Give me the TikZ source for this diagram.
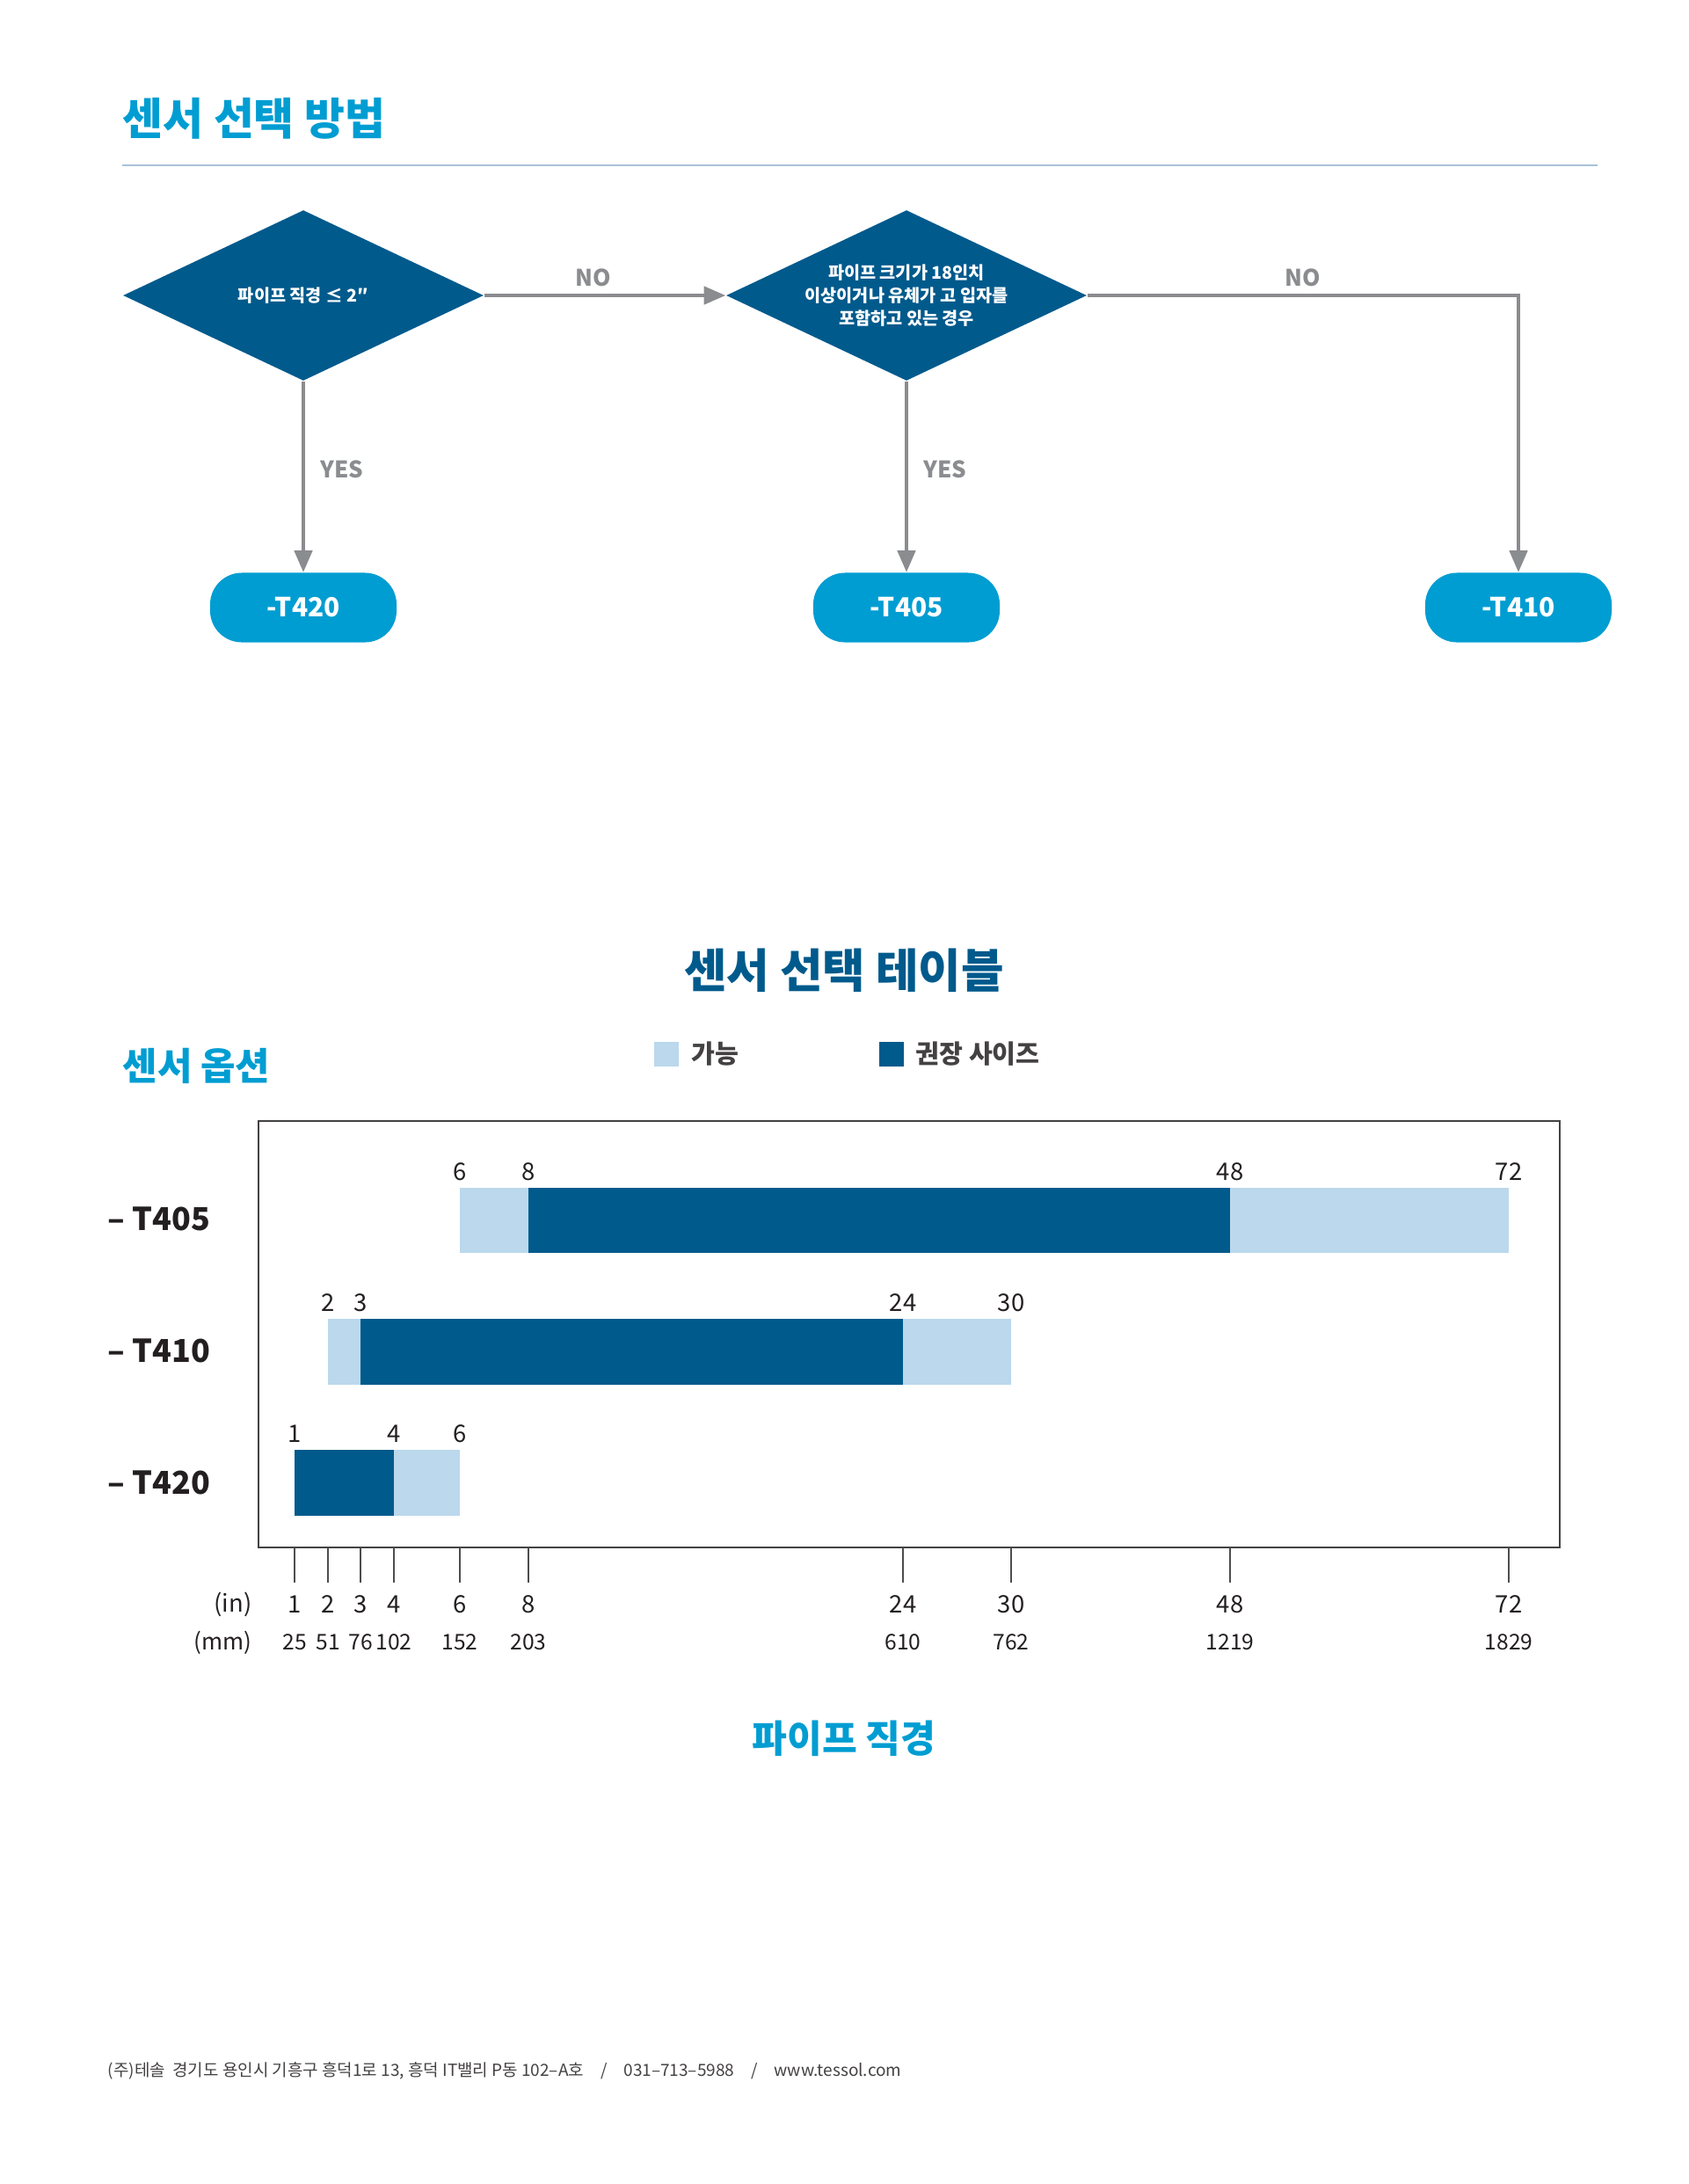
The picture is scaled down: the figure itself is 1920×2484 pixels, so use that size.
\documentclass[tikz,border=0pt]{standalone}
\usepackage{fontspec}
\setmainfont{Noto Sans CJK KR}
\usetikzlibrary{arrows.meta, positioning, shapes.geometric}
\definecolor{mdark}{RGB}{0,90,140}
\definecolor{mcyan}{RGB}{0,157,210}
\definecolor{mlight}{RGB}{187,216,236}
\definecolor{mgray}{RGB}{138,140,143}
\definecolor{mrule}{RGB}{168,194,216}
\definecolor{mtext}{RGB}{35,31,32}

\begin{document}
\begin{tikzpicture}[x=0.01cm, y=-0.01cm,
  ttl/.style={inner sep=0, font=\bfseries\fontsize{14.2}{17}\selectfont},
  dec/.style={diamond, aspect=2.1, fill=mdark, text=white, inner sep=0,
              align=center, minimum width=4.1cm, minimum height=1.94cm,
              font=\bfseries\fontsize{5.6}{7.4}\selectfont},
  term/.style={fill=mcyan, text=white, rounded corners=0.36cm,
               minimum width=2.12cm, minimum height=0.79cm,
               font=\bfseries\fontsize{8.5}{10}\selectfont},
  arr/.style={-{Triangle[length=7pt,width=5.8pt]}, mgray, line width=1pt},
  lbl/.style={text=mgray, inner sep=0, font=\bfseries\fontsize{7.4}{9}\selectfont},
  num/.style={text=mtext, inner sep=0, font=\fontsize{7.8}{9}\selectfont},
  mmnum/.style={text=mtext, inner sep=0, font=\fontsize{7}{8}\selectfont},
  rowlbl/.style={text=mtext, inner sep=0, anchor=west,
                 font=\bfseries\fontsize{10.2}{12}\selectfont},
  leg/.style={text=mtext!85, inner sep=0, anchor=west,
              font=\bfseries\fontsize{8.3}{10}\selectfont},
  tk/.style={mtext!80, line width=0.45pt}
]
\useasboundingbox (0,0) rectangle (1920,2484);

% flowchart
\node[ttl, text=mcyan, anchor=west] (ttl1) at (139,135) {센서 선택 방법};
\draw[mrule, line width=0.75pt] (139,188) -- (1817,188);

\node[dec] (d1) at (345,336) {파이프 직경 ≤ 2″};
\node[dec] (d2) at (1031,336) {파이프 크기가 18인치\\이상이거나 유체가 고 입자를\\포함하고 있는 경우};
\node[term] (t420) at (345,691) {-T420};
\node[term] (t405) at (1031,691) {-T405};
\node[term] (t410) at (1727,691) {-T410};

\draw[arr] (d1.east) -- node[lbl, above=2.5pt, pos=0.45] (no1) {NO} (d2.west);
\draw[arr] (d2.east) -| node[lbl, above=2.5pt, pos=0.25] (no2) {NO} (t410.north);
\draw[arr] (d1.south) -- node[lbl, right=5pt, pos=0.46] (yes1) {YES} (t420.north);
\draw[arr] (d2.south) -- node[lbl, right=5pt, pos=0.46] (yes2) {YES} (t405.north);

% table
\node[ttl, text=mdark, font=\bfseries\fontsize{15}{18}\selectfont] (ttl2) at (960,1104) {센서 선택 테이블};
\node[ttl, text=mcyan, anchor=west, font=\bfseries\fontsize{12.2}{14}\selectfont] (opt) at (139,1212) {센서 옵션};

\fill[mlight] (744,1185) rectangle (772,1213);
\node[leg] (lg1) at (786,1199) {가능};
\fill[mdark] (1000,1185) rectangle (1028,1213);
\node[leg] (lg2) at (1041,1199) {권장 사이즈};

\draw[mtext!85, line width=0.6pt] (294,1275) rectangle (1774,1760);

\node[rowlbl] (r405) at (122,1386) {– T405};
\node[rowlbl] (r410) at (122,1536) {– T410};
\node[rowlbl] (r420) at (122,1686) {– T420};

\fill[mlight] (523,1351) rectangle (1716,1425);
\fill[mdark] (601,1351) rectangle (1399,1425);
\fill[mlight] (373,1500) rectangle (1150,1575);
\fill[mdark] (410,1500) rectangle (1027,1575);
\fill[mlight] (335,1649) rectangle (523,1724);
\fill[mdark] (335,1649) rectangle (448,1724);

\foreach \x/\v in {523/6, 601/8, 1399/48, 1716/72}
  \node[num] (a\v) at (\x,1333) {\v};
\foreach \x/\v in {373/2, 410/3, 1027/24, 1150/30}
  \node[num] (b\v) at (\x,1482) {\v};
\foreach \x/\v in {335/1, 448/4, 523/6}
  \node[num] (c\v) at (\x,1631) {\v};

\node[num, anchor=east] (inch) at (287,1825) {(in)};
\node[num, anchor=east, font=\fontsize{7.4}{9}\selectfont] (mm) at (287,1868) {(mm)};
\foreach \x/\i/\m in {335/1/25, 373/2/51, 410/3/76, 448/4/102, 523/6/152, 601/8/203,
                      1027/24/610, 1150/30/762, 1399/48/1219, 1716/72/1829} {
  \draw[tk] (\x,1760) -- (\x,1800);
  \node[num] (in\i) at (\x,1825) {\i};
  \node[mmnum] (mm\i) at (\x,1868) {\m};
}

\node[ttl, text=mcyan, font=\bfseries\fontsize{12.3}{15}\selectfont] (axis) at (960,1977) {파이프 직경};

\node[inner sep=0, anchor=west, text=mtext!85, font=\fontsize{5.4}{7}\selectfont] (foot) at (122,2355)
  {(주)테솔\ \ 경기도 용인시 기흥구 흥덕1로 13, 흥덕 IT밸리 P동 102–A호\quad/\quad031–713–5988\quad/\quad www.tessol.com};
\end{tikzpicture}
\end{document}
